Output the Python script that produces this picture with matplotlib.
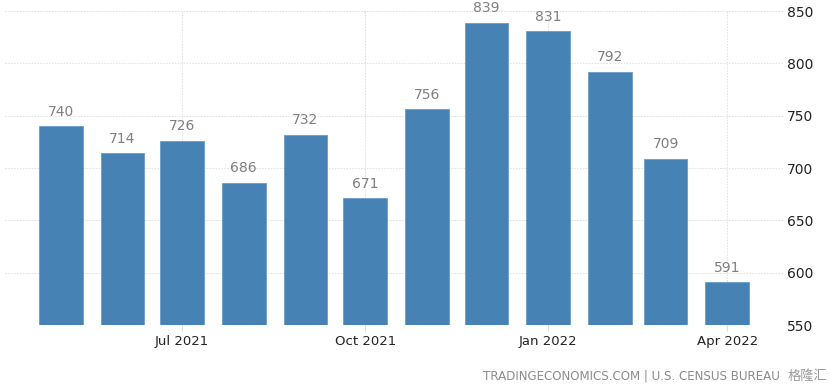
import matplotlib.pyplot as plt
import pandas as pd

# new home sales (thousands), monthly
months = pd.date_range("2021-05-01", "2022-04-01", freq="MS")
sales = [740, 714, 726, 686, 732, 671, 756, 839, 831, 792, 709, 591]
tick_months = pd.to_datetime(["2021-07-01", "2021-10-01", "2022-01-01", "2022-04-01"])
tick_labels = ["Jul 2021", "Oct 2021", "Jan 2022", "Apr 2022"]
y_ticks = [550, 600, 650, 700, 750, 800, 850]

fig = plt.figure(figsize=(8.31, 3.92), dpi=100)
ax = fig.add_axes([5 / 831, 1 - 325 / 392, 778 / 831, 314 / 392])

ax.bar(months, sales, width=22, color="#4682b4", edgecolor="#6a9bc6",
       linewidth=0.6, zorder=3)
for m, v in zip(months, sales):
    ax.text(m, v + 7, str(v), ha="center", va="bottom", fontsize=10,
            color="#7f7f7f", zorder=4)

ax.set_xlim(pd.Timestamp("2021-04-03"), pd.Timestamp("2022-04-29"))
ax.set_ylim(550, 850)
ax.set_xticks(tick_months)
ax.set_xticklabels(tick_labels)
ax.set_yticks(y_ticks)
ax.yaxis.tick_right()
ax.tick_params(axis="y", length=0, pad=3, labelsize=10, labelcolor="#222222")
ax.tick_params(axis="x", length=4, color="#dddddd", pad=3, labelsize=9.5,
               labelcolor="#222222")

ax.grid(True, linestyle=(0, (1.5, 1.5)), color="#dedede", linewidth=0.7, zorder=0)
for s in ax.spines.values():
    s.set_visible(False)

fig.text(483 / 831, 1 - 376 / 392, "TRADINGECONOMICS.COM | U.S. CENSUS BUREAU",
         fontsize=8.6, color="#8c8c8c", ha="left", va="center")
fig.text(827 / 831, 1 - 376 / 392, "格隆汇", fontsize=9.5, color="#9a9a9a",
         ha="right", va="center", family=["Noto Sans CJK SC", "DejaVu Sans"])

fig.savefig("out.png", dpi=100)
